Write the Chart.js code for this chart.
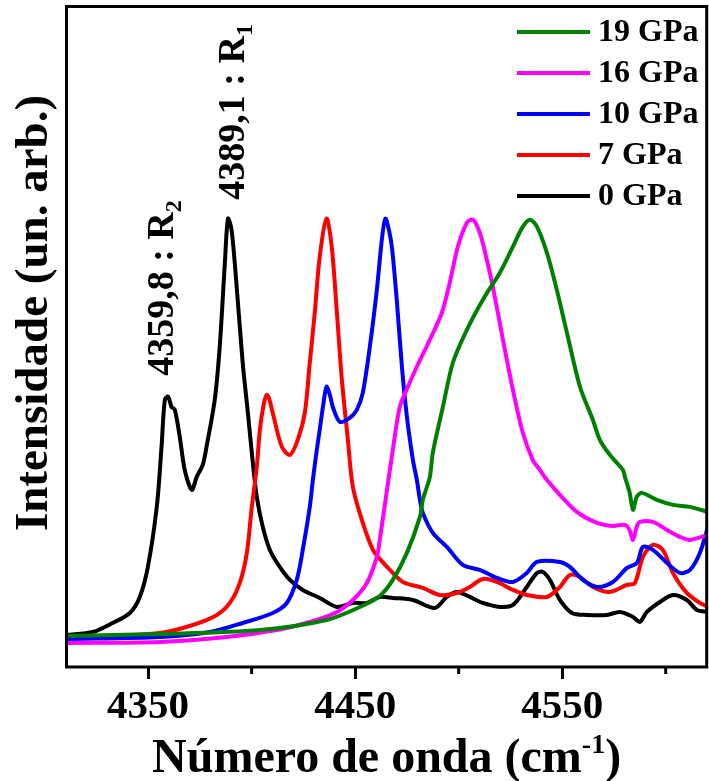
<!DOCTYPE html>
<html>
<head>
<meta charset="utf-8">
<script src="https://cdn.jsdelivr.net/npm/chart.js@4/dist/chart.umd.min.js"></script>
<style>
  html, body { margin: 0; padding: 0; background: #fff; }
</style>
</head>
<body>
<canvas id="chart" width="709" height="781"></canvas>
<script>
// Wavenumber (cm-1) / intensity (arb. units)
const wn0 = [4310.7, 4323.3, 4332.9, 4341.2, 4346.0, 4349.9, 4354.2, 4356.5, 4358.1, 4359.7, 4361.3, 4362.9, 4365.3, 4367.7, 4371.1, 4373.5, 4376.4, 4378.4, 4382.2, 4384.6, 4387.1, 4388.6, 4390.3, 4392.4, 4395.7, 4398.2, 4400.6, 4402.5, 4405.4, 4408.8, 4413.6, 4418.5, 4424.7, 4432.9, 4441.2, 4448.9, 4455.7, 4461.9, 4468.2, 4477.9, 4488.5, 4494.3, 4499.1, 4505.4, 4511.7, 4519.9, 4526.2, 4532.9, 4537.8, 4540.7, 4544.1, 4548.9, 4554.7, 4561.9, 4571.6, 4577.9, 4584.2, 4587.5, 4590.9, 4597.2, 4603.5, 4610.2, 4615.1, 4620.4];
const int0 = [32, 35, 44, 54, 70, 100, 160, 220, 267, 270, 260, 257, 230, 197, 177, 190, 202, 222, 267, 320, 404, 448, 437, 390, 304, 254, 204, 170, 140, 117, 100, 87, 77, 69, 60, 64, 64, 70, 69, 67, 59, 70, 75, 70, 64, 60, 62, 80, 94, 95, 87, 67, 54, 52, 52, 55, 50, 45, 55, 65, 72, 67, 57, 55];

const wn7 = [4310.7, 4355.7, 4371.6, 4383.2, 4389.5, 4394.3, 4397.7, 4400.1, 4402.5, 4404.0, 4405.8, 4407.3, 4408.5, 4410.2, 4414.6, 4418.5, 4422.3, 4425.7, 4428.1, 4430.5, 4432.9, 4436.2, 4438.7, 4441.2, 4443.6, 4446.5, 4448.9, 4453.7, 4458.6, 4461.9, 4466.8, 4473.0, 4482.7, 4490.9, 4499.1, 4505.4, 4511.7, 4518.5, 4526.2, 4532.9, 4542.6, 4548.9, 4553.7, 4558.6, 4564.8, 4573.0, 4581.3, 4585.1, 4589.0, 4593.8, 4598.6, 4603.5, 4610.2, 4616.5, 4620.4];
const int7 = [29, 34, 42, 52, 64, 84, 114, 160, 200, 237, 262, 272, 268, 254, 220, 212, 227, 254, 304, 354, 410, 448, 420, 354, 287, 227, 180, 144, 117, 108, 97, 85, 79, 72, 74, 80, 88, 85, 77, 72, 70, 80, 92, 90, 80, 75, 82, 84, 110, 122, 117, 94, 74, 64, 60];

const wn10 = [4310.7, 4355.7, 4379.8, 4395.7, 4410.2, 4417.0, 4421.8, 4424.7, 4428.1, 4429.6, 4431.5, 4432.9, 4434.6, 4436.2, 4437.8, 4439.2, 4442.6, 4447.4, 4450.8, 4453.7, 4457.1, 4460.5, 4462.9, 4464.6, 4466.5, 4467.9, 4470.1, 4472.6, 4475.0, 4477.9, 4479.8, 4481.3, 4482.7, 4487.5, 4494.3, 4502.0, 4510.2, 4518.5, 4526.2, 4532.9, 4537.8, 4548.9, 4553.7, 4560.0, 4566.8, 4574.5, 4581.3, 4586.1, 4589.0, 4593.8, 4600.6, 4606.9, 4611.7, 4616.5, 4620.4];
const int10 = [28, 30, 35, 44, 54, 64, 87, 117, 160, 187, 217, 237, 262, 280, 272, 260, 245, 249, 257, 274, 320, 377, 427, 448, 435, 417, 367, 300, 250, 207, 187, 167, 154, 134, 120, 102, 97, 89, 85, 94, 105, 105, 100, 87, 80, 85, 99, 104, 120, 117, 104, 94, 97, 114, 140];

const wn16 = [4310.7, 4355.7, 4388.0, 4412.2, 4428.1, 4441.2, 4448.9, 4455.7, 4460.5, 4461.9, 4464.7, 4468.2, 4471.6, 4475.5, 4479.8, 4486.1, 4491.9, 4495.7, 4499.6, 4504.0, 4506.9, 4510.2, 4513.6, 4516.5, 4521.4, 4526.2, 4531.0, 4535.8, 4539.2, 4542.6, 4548.9, 4557.1, 4566.8, 4574.5, 4580.3, 4582.5, 4584.2, 4586.0, 4587.5, 4593.8, 4600.6, 4606.9, 4611.7, 4620.4];
const int16 = [24, 25, 30, 37, 45, 55, 67, 84, 110, 127, 167, 217, 260, 280, 300, 327, 354, 384, 420, 444, 447, 434, 407, 380, 327, 277, 234, 207, 197, 187, 172, 155, 144, 141, 142, 137, 127, 140, 145, 145, 137, 130, 127, 132];

const wn19 = [4310.7, 4355.7, 4404.0, 4436.2, 4452.3, 4461.9, 4468.2, 4475.0, 4481.3, 4482.7, 4486.1, 4487.5, 4492.4, 4497.2, 4504.0, 4511.7, 4519.9, 4526.2, 4531.0, 4534.4, 4537.8, 4542.6, 4547.4, 4552.3, 4558.6, 4564.8, 4568.2, 4573.0, 4579.3, 4580.3, 4582.5, 4584.2, 4586.0, 4588.5, 4595.7, 4603.5, 4611.7, 4620.4];
const int19 = [31, 33, 37, 47, 60, 71, 87, 114, 150, 167, 190, 214, 260, 304, 337, 367, 394, 420, 440, 447, 440, 414, 377, 334, 280, 247, 227, 212, 197, 190, 175, 157, 170, 174, 167, 162, 160, 155];

const seriesLabels = ["19 GPa", "16 GPa", "10 GPa", "7 GPa", "0 GPa"];
const seriesColors = ["#008000", "#ff00ff", "#0000ff", "#ff0000", "#000000"];
const seriesWn = [wn19, wn16, wn10, wn7, wn0];
const seriesInt = [int19, int16, int10, int7, int0];

const majorTicks = [4350, 4450, 4550];
const minorTicks = [4400, 4500, 4600];

// peak labels on the 0 GPa curve
const peakWn = [4359.8, 4389.1];
const peakText = ["4359,8 : R", "4389,1 : R"];
const peakSub = ["2", "1"];

const FONT = "'Liberation Serif', 'Times New Roman', serif";

const framePlugin = {
  id: "frame",
  afterDraw(chart) {
    const { ctx, chartArea: a, scales: { x, y } } = chart;
    ctx.save();
    ctx.strokeStyle = "#000";
    ctx.fillStyle = "#000";
    ctx.lineWidth = 3;
    ctx.strokeRect(a.left, a.top, a.right - a.left, a.bottom - a.top);

    // minor ticks (shorter)
    minorTicks.forEach(v => {
      const px = x.getPixelForValue(v);
      ctx.beginPath();
      ctx.moveTo(px, a.bottom);
      ctx.lineTo(px, a.bottom + 7);
      ctx.stroke();
    });

    // x title with superscript
    const big = "bold 48px " + FONT, sup = "bold 28px " + FONT;
    const t1 = "Número de onda (cm", t2 = "-1", t3 = ")";
    ctx.font = big; const w1 = ctx.measureText(t1).width, w3 = ctx.measureText(t3).width;
    ctx.font = sup; const w2 = ctx.measureText(t2).width;
    let tx = (a.left + a.right) / 2 - (w1 + w2 + w3) / 2;
    const ty = 772;
    ctx.textBaseline = "alphabetic"; ctx.textAlign = "left";
    ctx.font = big; ctx.fillText(t1, tx, ty); tx += w1;
    ctx.font = sup; ctx.fillText(t2, tx, ty - 19); tx += w2;
    ctx.font = big; ctx.fillText(t3, tx, ty);

    // y title
    ctx.save();
    ctx.translate(47, 313);
    ctx.rotate(-Math.PI / 2);
    ctx.textAlign = "center";
    ctx.font = "bold 47px " + FONT;
    ctx.fillText("Intensidade (un. arb.)", 0, 0);
    ctx.restore();

    // peak annotations
    const dx = [5, 15], dy = [21, 19];
    peakWn.forEach((wn, i) => {
      const px = x.getPixelForValue(wn);
      // peak height from the 0 GPa data
      let best = 0, bd = 1e9;
      wn0.forEach((w, j) => { const d = Math.abs(w - wn); if (d < bd) { bd = d; best = int0[j]; } });
      const py = y.getPixelForValue(best);
      ctx.save();
      ctx.translate(px + dx[i], py - dy[i]);
      ctx.rotate(-Math.PI / 2);
      ctx.textAlign = "left";
      ctx.font = "bold 38px " + FONT;
      ctx.fillText(peakText[i], 0, 0);
      const w = ctx.measureText(peakText[i]).width;
      ctx.font = "bold 24px " + FONT;
      ctx.fillText(peakSub[i], w, 8);
      ctx.restore();
    });

    // legend
    chart.data.datasets.forEach((ds, i) => {
      const ly = 32 + 41 * i;
      ctx.strokeStyle = ds.borderColor;
      ctx.lineWidth = 4;
      ctx.beginPath();
      ctx.moveTo(517, ly);
      ctx.lineTo(590, ly);
      ctx.stroke();
      ctx.font = "bold 32px " + FONT;
      ctx.textBaseline = "middle";
      ctx.textAlign = "left";
      ctx.fillText(ds.label, 598, ly + 1);
    });
    ctx.restore();
  }
};

new Chart(document.getElementById("chart"), {
  type: "line",
  data: {
    datasets: seriesLabels.map((label, i) => ({
      label,
      data: seriesWn[i].map((w, j) => ({ x: w, y: seriesInt[i][j] })),
      borderColor: seriesColors[i],
      borderWidth: 4,
      pointRadius: 0,
      tension: 0.3,
      fill: false,
    })),
  },
  options: {
    responsive: false,
    animation: false,
    layout: { padding: { left: 66.5, top: 6.5, right: 2.3, bottom: 0 } },
    plugins: { legend: { display: false }, tooltip: { enabled: false } },
    scales: {
      x: {
        type: "linear",
        min: 4310.6,
        max: 4619.8,
        afterBuildTicks: s => { s.ticks = majorTicks.map(v => ({ value: v })); },
        afterFit: s => { s.height = 114; },
        border: { display: false },
        grid: { drawOnChartArea: false, drawTicks: true, tickLength: 12, tickWidth: 3, tickColor: "#000" },
        ticks: {
          color: "#000",
          font: { family: FONT, weight: "bold", size: 41 },
          padding: 4,
          maxRotation: 0,
          autoSkip: false,
          callback: v => String(v),
        },
      },
      y: { display: false, min: 0, max: 660 },
    },
  },
  plugins: [framePlugin],
});
</script>
</body>
</html>
